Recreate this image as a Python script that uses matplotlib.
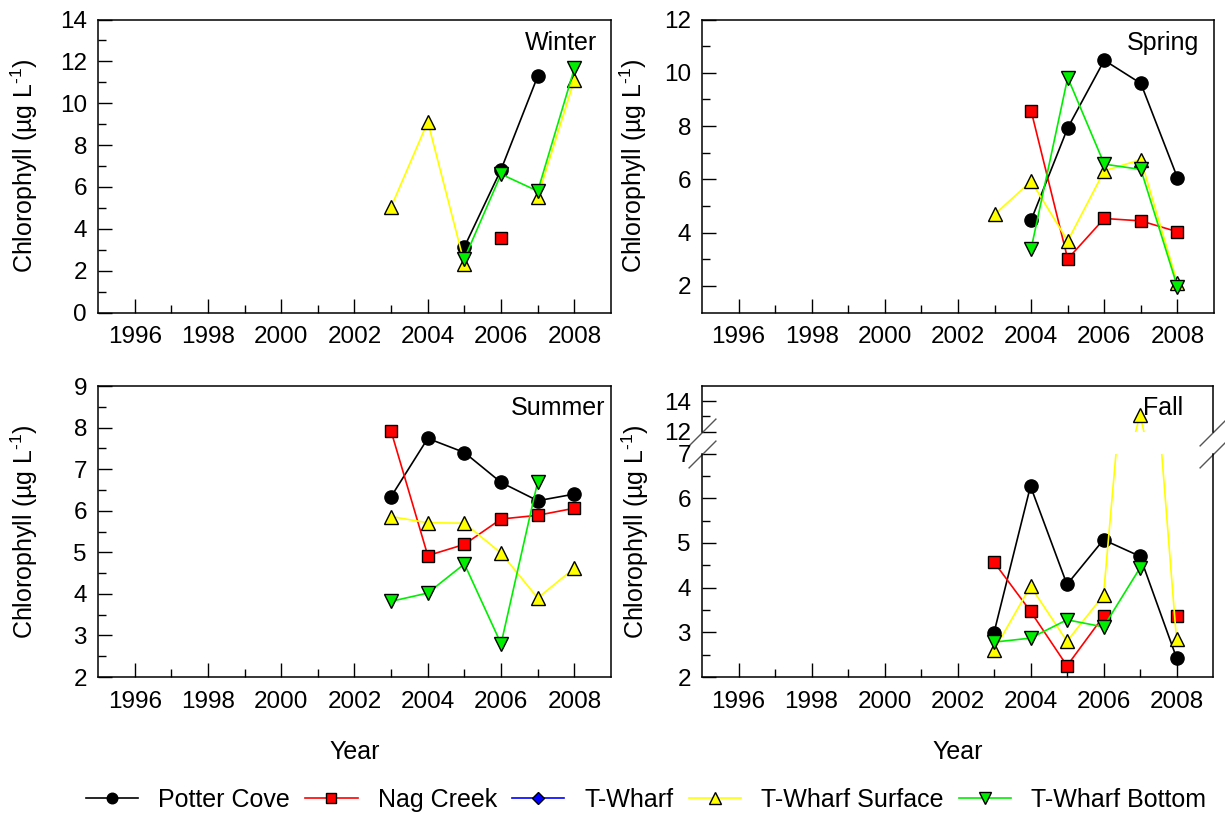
import numpy as np
import matplotlib
matplotlib.use('Agg')
import matplotlib.pyplot as plt
from matplotlib.ticker import FixedLocator, MultipleLocator

nan = np.nan

years = [2003, 2004, 2005, 2006, 2007, 2008]
major_years = [1996, 1998, 2000, 2002, 2004, 2006, 2008]
minor_years = [1997, 1999, 2001, 2003, 2005, 2007]

series_names = ['Potter Cove', 'Nag Creek', 'T-Wharf', 'T-Wharf Surface', 'T-Wharf Bottom']

# chlorophyll by season, one list per site (NaN = no sample)
winter_potter = [nan, nan, 3.14, 6.83, 11.29, nan]
winter_nag = [nan, nan, nan, 3.54, nan, nan]
winter_twharf = [nan, nan, nan, nan, nan, nan]
winter_surface = [5.05, 9.11, 2.34, nan, 5.53, 11.1]
winter_bottom = [nan, nan, 2.58, 6.61, 5.8, 11.66]

spring_potter = [nan, 4.47, 7.93, 10.47, 9.6, 6.06]
spring_nag = [nan, 8.57, 3.01, 4.53, 4.44, 4.03]
spring_twharf = [nan, nan, nan, nan, nan, nan]
spring_surface = [4.68, 5.93, 3.69, 6.32, 6.74, 2.09]
spring_bottom = [nan, 3.4, 9.82, 6.57, 6.37, 1.96]

summer_potter = [6.34, 7.74, 7.4, 6.68, 6.24, 6.4]
summer_nag = [7.91, 4.92, 5.19, 5.8, 5.89, 6.06]
summer_twharf = [nan, nan, nan, nan, nan, nan]
summer_surface = [5.86, 5.71, 5.7, 4.98, 3.9, 4.62]
summer_bottom = [3.82, 4.02, 4.72, 2.8, 6.7, nan]

fall_potter = [2.99, 6.27, 4.07, 5.07, 4.7, 2.43]
fall_nag = [4.57, 3.47, 2.25, 3.36, nan, 3.36]
fall_twharf = [nan, nan, nan, nan, nan, nan]
fall_surface = [2.6, 4.03, 2.8, 3.83, 13.1, 2.84]
fall_bottom = [2.78, 2.87, 3.28, 3.12, 4.44, nan]

# line colour, marker, marker face, marker size
styles = [
    ('black', 'o', 'black', 9.5),
    ('#ff0000', 's', '#ff0000', 8.5),
    ('#0000ff', 'D', '#0000ff', 8),
    ('#ffff00', '^', '#ffff00', 10),
    ('#00ee00', 'v', '#00ee00', 10),
]

W, H = 1225, 814
YLABEL = 'Chlorophyll (\u00b5g L$^{\\text{-}1}$)'
TICK_FS = 17.5
LABEL_FS = 18

plt.rcParams['font.family'] = ['Liberation Sans', 'DejaVu Sans']
plt.rcParams['mathtext.fontset'] = 'custom'
plt.rcParams['mathtext.rm'] = 'Liberation Sans'
plt.rcParams['mathtext.default'] = 'regular'


def rect(left, top, right, bottom):
    return [left / W, 1 - bottom / H, (right - left) / W, (bottom - top) / H]


def plot_series(ax, data):
    handles = []
    for values, (color, marker, face, ms) in zip(data, styles):
        h, = ax.plot(years, values, color=color, lw=1.2, marker=marker,
                     ms=ms, mfc=face, mec='black', mew=1.0)
        handles.append(h)
    return handles


def style_axis(ax, ymajor, yminor, xlabels=True):
    ax.set_xlim(1995, 2009)
    ax.xaxis.set_major_locator(FixedLocator(major_years))
    ax.xaxis.set_minor_locator(FixedLocator(minor_years))
    ax.yaxis.set_major_locator(MultipleLocator(ymajor))
    ax.yaxis.set_minor_locator(MultipleLocator(yminor))
    ax.tick_params(which='both', direction='in', top=False, right=False,
                   width=1, labelsize=TICK_FS)
    ax.tick_params(which='major', length=10)
    ax.tick_params(which='minor', length=6)
    ax.tick_params(axis='x', pad=10)
    ax.tick_params(axis='y', pad=8)
    if not xlabels:
        ax.tick_params(axis='x', which='both', bottom=False, labelbottom=False)
    for sp in ax.spines.values():
        sp.set_linewidth(1.1)


def add_ylabel(ax, x, y=0.5):
    ax.set_ylabel(YLABEL, fontsize=LABEL_FS)
    ax.yaxis.set_label_coords(x, y)


def add_xlabel(ax, y):
    ax.set_xlabel('Year', fontsize=LABEL_FS)
    ax.xaxis.set_label_coords(0.5, y)
    ax.xaxis.label.set_va('top')


def main():
    fig = plt.figure(figsize=(W / 100, H / 100), dpi=100)

    # Winter
    ax = fig.add_axes(rect(98, 19.5, 611, 312.5))
    handles = plot_series(ax, [winter_potter, winter_nag, winter_twharf,
                               winter_surface, winter_bottom])
    ax.set_ylim(0, 14)
    style_axis(ax, 2, 1)
    add_ylabel(ax, -0.113)
    ax.text(0.973, 0.92, 'Winter', transform=ax.transAxes, ha='right',
            va='center', fontsize=LABEL_FS)

    # Spring
    ax = fig.add_axes(rect(702, 19.5, 1214, 312.5))
    plot_series(ax, [spring_potter, spring_nag, spring_twharf,
                     spring_surface, spring_bottom])
    ax.set_ylim(1, 12)
    style_axis(ax, 2, 1)
    ax.yaxis.set_major_locator(FixedLocator([2, 4, 6, 8, 10, 12]))
    ax.yaxis.set_minor_locator(FixedLocator([3, 5, 7, 9, 11]))
    add_ylabel(ax, -0.104)
    ax.text(0.971, 0.92, 'Spring', transform=ax.transAxes, ha='right',
            va='center', fontsize=LABEL_FS)

    # Summer
    ax = fig.add_axes(rect(98, 386, 611, 677))
    plot_series(ax, [summer_potter, summer_nag, summer_twharf,
                     summer_surface, summer_bottom])
    ax.set_ylim(2, 9)
    style_axis(ax, 1, 0.5)
    add_ylabel(ax, -0.113)
    add_xlabel(ax, -0.2165)
    ax.text(0.989, 0.924, 'Summer', transform=ax.transAxes, ha='right',
            va='center', fontsize=LABEL_FS)

    # Fall, split y axis
    fall_data = [fall_potter, fall_nag, fall_twharf, fall_surface, fall_bottom]
    top = fig.add_axes(rect(702, 386, 1213, 431.7))
    low = fig.add_axes(rect(702, 453.5, 1213, 677), sharex=top)
    plot_series(top, fall_data)
    plot_series(low, fall_data)
    top.set_ylim(12, 15)
    low.set_ylim(2, 7)
    style_axis(top, 2, 1, xlabels=False)
    style_axis(low, 1, 0.5)
    top.yaxis.set_major_locator(FixedLocator([12, 14]))
    top.yaxis.set_minor_locator(FixedLocator([13]))
    top.spines['bottom'].set_visible(False)
    low.spines['top'].set_visible(False)
    add_ylabel(low, -0.1, 0.649)
    add_xlabel(low, -0.282)
    top.text(0.941, 0.52, 'Fall', transform=top.transAxes, ha='right',
             va='center', fontsize=LABEL_FS)

    # break marks on both spines
    brk = dict(marker=[(-1, -1), (1, 1)], markersize=20, linestyle='none',
               color='#555555', mec='#555555', mew=1.0, clip_on=False)
    top.plot([0, 1], [0, 0], transform=top.transAxes, **brk)
    low.plot([0, 1], [1, 1], transform=low.transAxes, **brk)

    fig.legend(handles, series_names, loc='center', ncol=5,
               bbox_to_anchor=(646 / W, 1 - 800 / H), frameon=False,
               fontsize=LABEL_FS, handlelength=2.1, handletextpad=0.8,
               columnspacing=0.6, markerscale=0.8)

    fig.savefig('out.png', dpi=100)


if __name__ == '__main__':
    main()
